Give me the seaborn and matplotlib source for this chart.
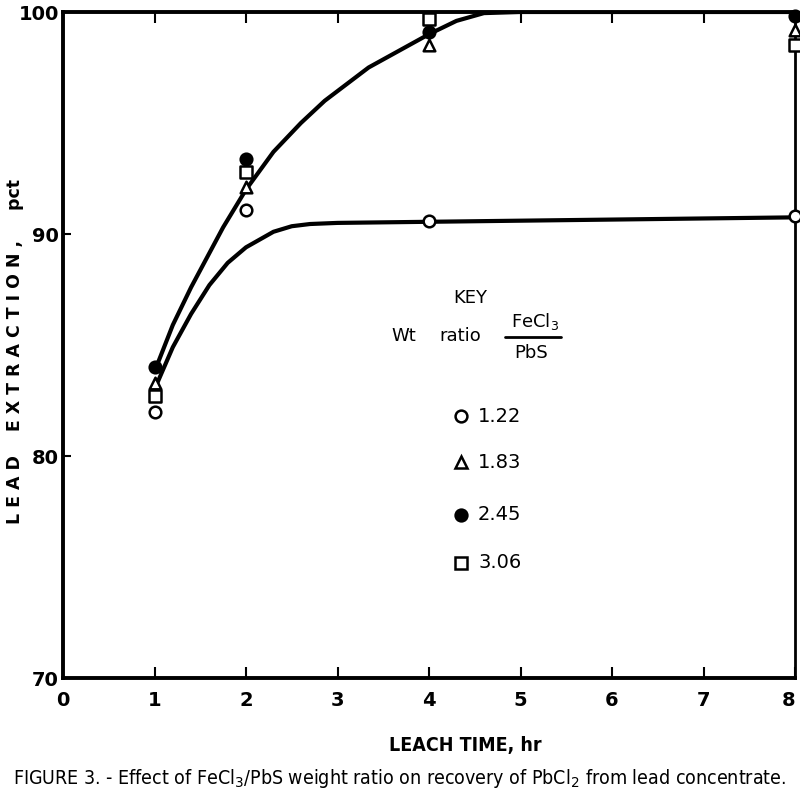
import matplotlib
matplotlib.use("Agg")
import matplotlib.pyplot as plt
import seaborn as sns
import pandas as pd

# ---- data ----
leach_time = [1, 2, 4, 8]
ratios = ["1.22", "1.83", "2.45", "3.06"]
extraction_122 = [82.0, 91.1, 90.6, 90.8]
extraction_183 = [83.3, 92.1, 98.5, 99.2]
extraction_245 = [84.0, 93.4, 99.1, 99.8]
extraction_306 = [82.7, 92.8, 99.7, 98.5]

# hand-drawn fitted curves
upper_curve_x = [1, 1.2, 1.4, 1.75, 2.0, 2.3, 2.6, 2.86, 3.34, 4.0, 4.3, 4.6, 5.0, 8]
upper_curve_y = [83.8, 85.9, 87.6, 90.3, 92.0, 93.7, 95.0, 96.0, 97.5, 99.0, 99.6, 99.95, 100, 100]
lower_curve_x = [1, 1.2, 1.4, 1.6, 1.8, 2.0, 2.3, 2.5, 2.7, 3.0, 4.0, 8]
lower_curve_y = [83.0, 84.9, 86.4, 87.7, 88.7, 89.4, 90.1, 90.35, 90.45, 90.5, 90.55, 90.75]

x_ticks = [0, 1, 2, 3, 4, 5, 6, 7, 8]
y_ticks = [70, 80, 90, 100]

sns.set_theme(style="white")
plt.rcParams["font.family"] = ["DejaVu Sans"]
plt.rcParams["text.color"] = "black"
plt.rcParams["xtick.color"] = "black"
plt.rcParams["ytick.color"] = "black"

fig = plt.figure(figsize=(8, 8.01), dpi=100)
ax = fig.add_axes([63 / 800, 1 - 678 / 801, (795 - 63) / 800, (678 - 12) / 801])

# curves
sns.lineplot(x=upper_curve_x, y=upper_curve_y, ax=ax, color="black", lw=3.0,
             sort=False, solid_joinstyle="round", solid_capstyle="round", zorder=2)
sns.lineplot(x=lower_curve_x, y=lower_curve_y, ax=ax, color="black", lw=3.0,
             sort=False, solid_joinstyle="round", solid_capstyle="round", zorder=2)

# points
series = [extraction_122, extraction_183, extraction_245, extraction_306]
rows = []
for r, vals in zip(ratios, series):
    for t, v in zip(leach_time, vals):
        rows.append({"time": t, "extraction": v, "ratio": r})
df = pd.DataFrame(rows)

marker_map = {"1.22": "o", "1.83": "^", "2.45": "o", "3.06": "s"}
face_map = {"1.22": "white", "1.83": "white", "2.45": "black", "3.06": "white"}
for r in ratios:
    sub = df[df["ratio"] == r]
    sns.scatterplot(data=sub, x="time", y="extraction", ax=ax, marker=marker_map[r],
                    s=70, facecolor=face_map[r], edgecolor="black", linewidth=1.8,
                    zorder=3, clip_on=False, legend=False)

ax.set_xlim(0, 8)
ax.set_ylim(70, 100)
ax.set_xticks(x_ticks)
ax.set_yticks(y_ticks)
ax.set_xticklabels([str(t) for t in x_ticks], fontsize=14, fontweight="bold")
ax.set_yticklabels([str(t) for t in y_ticks], fontsize=14, fontweight="bold")
ax.get_xticklabels()[-1].set_horizontalalignment("right")
ax.tick_params(axis="both", direction="in", length=8, width=1.5, color="black",
               labelcolor="black", top=True, right=False, left=True, bottom=True, pad=9)
ax.tick_params(axis="y", pad=3, length=6)
for sp in ax.spines.values():
    sp.set_visible(True)
    sp.set_color("black")
    sp.set_linewidth(2.8)
ax.spines["right"].set_linewidth(2.0)
ax.set_xlabel("")
ax.set_ylabel("")

# axis labels
fig.text(15 / 800, 1 - 352 / 801, "L E A D    E X T R A C T I O N ,     pct",
         rotation=90, ha="center", va="center", fontsize=12.5, fontweight="bold",
         color="black")
fig.text(465 / 800, 1 - 745 / 801, "LEACH TIME, hr", ha="center", va="center",
         fontsize=14, fontweight="bold", fontstretch="condensed", color="black")
fig.text(400 / 800, 1 - 778 / 801,
         "FIGURE 3. - Effect of FeCl$_3$/PbS weight ratio on recovery of PbCl$_2$ from lead concentrate.",
         ha="center", va="center", fontsize=14, fontstretch="condensed", color="black")

# key
def fx(px):
    return px / 800

def fy(py):
    return 1 - py / 801

fig.text(fx(470), fy(298), "KEY", ha="center", va="center", fontsize=13, color="black")
fig.text(fx(404), fy(336), "Wt", ha="center", va="center", fontsize=13, color="black")
fig.text(fx(460), fy(336), "ratio", ha="center", va="center", fontsize=13, color="black")
fig.text(fx(535), fy(321), "FeCl$_3$", ha="center", va="center", fontsize=13, color="black")
fig.add_artist(plt.Line2D([fx(505), fx(561)], [fy(337), fy(337)], color="black", lw=2))
fig.text(fx(531), fy(353), "PbS", ha="center", va="center", fontsize=13, color="black")

key_y = [416, 462, 515, 563]
for r, ky in zip(ratios, key_y):
    fig.add_artist(plt.Line2D([fx(461)], [fy(ky)], marker=marker_map[r], markersize=8.5,
                              markerfacecolor=face_map[r], markeredgecolor="black",
                              markeredgewidth=1.8, linestyle="none"))
    fig.text(fx(478), fy(ky), r, ha="left", va="center", fontsize=14, color="black")

fig.savefig("out.png", dpi=100)
